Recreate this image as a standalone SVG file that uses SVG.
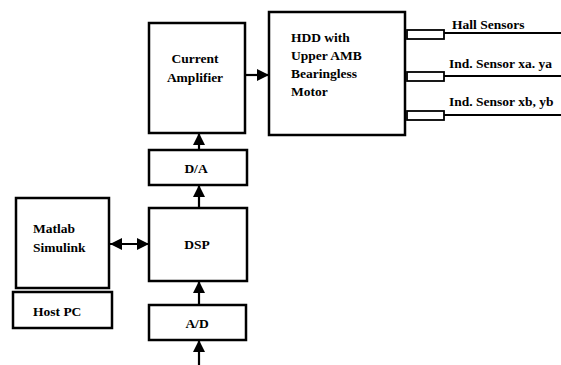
<svg xmlns="http://www.w3.org/2000/svg" width="561" height="365" viewBox="0 0 561 365">
<style>
.box{fill:#fff;stroke:#000;stroke-width:2.5}
.t{font-family:"Liberation Serif","Times New Roman",serif;font-weight:bold;font-size:13.5px;fill:#000}
.m{text-anchor:middle}
.ln{stroke:#000;stroke-width:2.2;fill:none}
.sl{stroke:#000;stroke-width:1.8;fill:none}
</style>
<defs>
<marker id="ah" markerWidth="12" markerHeight="12" viewBox="0 0 12 12" refX="12" refY="6" orient="auto-start-reverse" markerUnits="userSpaceOnUse">
<path d="M0,0 L12,6 L0,12 Z" fill="#000"/>
</marker>
</defs>
<g id="current-amplifier">
<rect class="box" x="149" y="23" width="96" height="110"/>
<text class="t m" x="195" y="63">Current</text>
<text class="t m" x="195" y="82">Amplifier</text>
</g>
<g id="hdd">
<rect class="box" x="269" y="12" width="136" height="123"/>
<text class="t" x="291" y="42">HDD with</text>
<text class="t" x="291" y="60">Upper AMB</text>
<text class="t" x="291" y="78">Bearingless</text>
<text class="t" x="291" y="96">Motor</text>
</g>
<g id="hall-sensors">
<rect class="sl" x="407" y="30" width="37" height="9" fill="#fff"/>
<line class="sl" x1="444" y1="33" x2="561" y2="33"/>
<text class="t" x="452" y="29">Hall Sensors</text>
</g>
<g id="ind-sensor-a">
<rect class="sl" x="407" y="72" width="37" height="9" fill="#fff"/>
<line class="sl" x1="444" y1="76" x2="561" y2="76"/>
<text class="t" x="449" y="68">Ind. Sensor xa. ya</text>
</g>
<g id="ind-sensor-b">
<rect class="sl" x="407" y="111" width="37" height="9" fill="#fff"/>
<line class="sl" x1="444" y1="115" x2="561" y2="115"/>
<text class="t" x="449" y="106">Ind. Sensor xb, yb</text>
</g>
<g id="da">
<rect class="box" x="149" y="150" width="98" height="35"/>
<text class="t m" x="196" y="173">D/A</text>
</g>
<g id="dsp">
<rect class="box" x="149" y="208" width="98" height="73"/>
<text class="t m" x="197" y="249">DSP</text>
</g>
<g id="ad">
<rect class="box" x="149" y="305" width="97" height="35"/>
<text class="t m" x="197" y="328">A/D</text>
</g>
<g id="matlab">
<rect class="box" x="16" y="198" width="93" height="90"/>
<text class="t" x="33" y="233">Matlab</text>
<text class="t" x="33" y="252">Simulink</text>
</g>
<g id="host-pc">
<rect class="box" x="13" y="292" width="99" height="36"/>
<text class="t" x="33" y="316">Host PC</text>
</g>
<g id="connectors">
<line class="ln" x1="245" y1="75" x2="269" y2="75" marker-end="url(#ah)"/>
<line class="ln" x1="199" y1="150" x2="199" y2="133" marker-end="url(#ah)"/>
<line class="ln" x1="199" y1="208" x2="199" y2="185" marker-end="url(#ah)"/>
<line class="ln" x1="199" y1="305" x2="199" y2="281" marker-end="url(#ah)"/>
<line class="ln" x1="199" y1="365" x2="199" y2="340" marker-end="url(#ah)"/>
<line class="ln" x1="110" y1="244" x2="149" y2="244" marker-start="url(#ah)" marker-end="url(#ah)"/>
</g>
</svg>
